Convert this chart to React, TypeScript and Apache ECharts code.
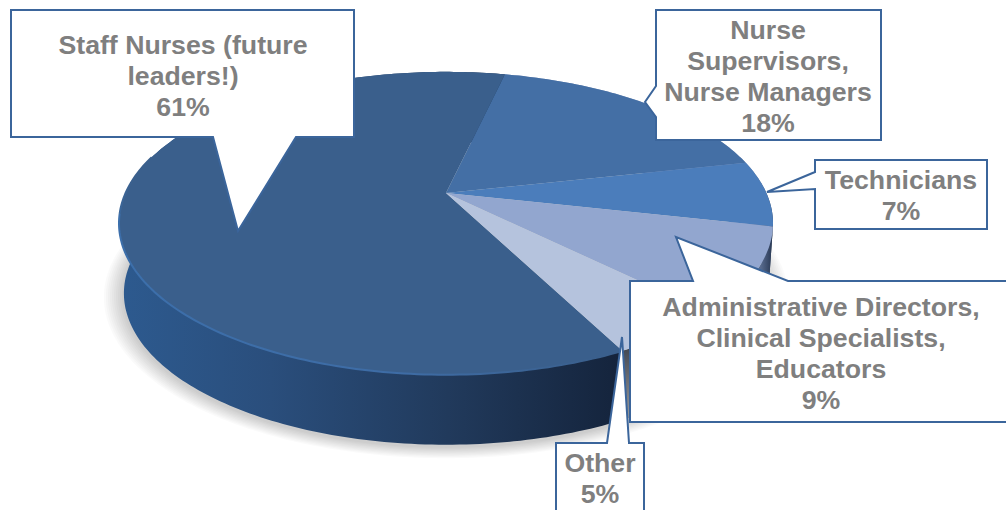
import React, { useEffect, useRef } from "react";
import * as echarts from "echarts";

const categories = [
  "Staff Nurses (future\nleaders!)",
  "Nurse\nSupervisors,\nNurse Managers",
  "Technicians",
  "Administrative Directors,\nClinical Specialists,\nEducators",
  "Other",
];
const shares = [61, 18, 7, 9, 5];
const faceColors = ["#3a5f8c", "#446fa5", "#4b7dbb", "#92a6cf", "#b5c3dd"];

const firstSliceStart = 153.1;
const apexX = 446;
const apexY = 193;
const radiusX = 320.4;
const radiusY = 145.4;
const tilt = 0.2;
const depth = 70;
const bottomScale = 0.985;
const shadowLayers = [2, 4, 6, 8, 10, 12, 14, 16, 18, 20];

const total = shares.reduce((a, b) => a + b, 0);
const sliceRange = (i: number) => {
  let s = firstSliceStart;
  for (let j = 0; j < i; j++) s += (shares[j] / total) * 360;
  return [s, s + (shares[i] / total) * 360];
};
const project = (deg: number) => {
  const r = (deg * Math.PI) / 180;
  const u = Math.sin(r);
  const v = Math.cos(r);
  const d = 1 + tilt * v;
  return [apexX + (radiusX * u) / d, apexY - (radiusY * v) / d];
};
const lower = (p: number[]) => [
  apexX + (p[0] - apexX) * bottomScale,
  p[1] + depth,
];
const arcPoints = (a: number, b: number) => {
  const pts: number[][] = [];
  const n = Math.max(2, Math.ceil(b - a));
  for (let i = 0; i <= n; i++) pts.push(project(a + ((b - a) * i) / n));
  return pts;
};

const wallFill = (i: number) => {
  if (i === 0)
    return new echarts.graphic.LinearGradient(
      119, 0, 625, 0,
      [
        { offset: 0, color: "#2d5a8f" },
        { offset: 0.3, color: "#2a4e7c" },
        { offset: 0.65, color: "#213a5c" },
        { offset: 1, color: "#14233b" },
      ],
      true,
    );
  if (i === 4)
    return new echarts.graphic.LinearGradient(
      0, 345, 0, 430,
      [
        { offset: 0, color: "#3f4550" },
        { offset: 1, color: "#a8a8a8" },
      ],
      true,
    );
  return new echarts.graphic.LinearGradient(
    745, 0, 772, 0,
    [
      { offset: 0, color: "#8a9cc0" },
      { offset: 0.6, color: "#56698c" },
      { offset: 1, color: "#2a3a55" },
    ],
    true,
  );
};

const rimStroke = new echarts.graphic.LinearGradient(
  119, 0, 600, 0,
  [
    { offset: 0, color: "#3c6fab" },
    { offset: 0.6, color: "#3e6ca5" },
    { offset: 1, color: "#3a5f8c" },
  ],
  true,
);
const rimFade = new echarts.graphic.LinearGradient(
  0, 175, 0, 260,
  [
    { offset: 0, color: "#3a5f8c" },
    { offset: 1, color: "#3c6fab" },
  ],
  true,
);

const boxStyle = { fill: "#ffffff", stroke: "#3b659b", lineWidth: 2 };
const callouts = [
  { i: 0, cx: 183, cy: 75.5, pts: [[11, 10], [354, 10], [354, 137], [296, 137], [238, 231], [213, 137], [11, 137]] },
  { i: 1, cx: 768, cy: 76, pts: [[656, 10], [881, 10], [881, 140], [656, 140], [656, 117], [645, 102], [656, 86]] },
  { i: 2, cx: 901, cy: 195.5, pts: [[815, 160], [987, 160], [987, 229], [815, 229], [815, 189], [767, 192], [815, 172]] },
  { i: 3, cx: 821, cy: 353, pts: [[630, 281], [693, 281], [676, 237], [788, 281], [1012, 281], [1012, 422], [630, 422]] },
  { i: 4, cx: 600, cy: 478.5, pts: [[556, 443], [607, 443], [622, 337], [629, 443], [644, 443], [644, 520], [556, 520]] },
];

export default function App() {
  const ref = useRef<HTMLDivElement>(null);
  useEffect(() => {
    const chart = echarts.init(ref.current!, undefined, { renderer: "svg" });
    const graphics: any[] = [];
    callouts.forEach((c, n) => {
      graphics.push({
        type: "polygon",
        z: 10 + n,
        shape: { points: c.pts },
        style: boxStyle,
      });
    });
    callouts.forEach((c) => {
      graphics.push({
        type: "text",
        z: 30,
        x: c.cx,
        y: c.cy,
        style: {
          text: `${categories[c.i]}\n${shares[c.i]}%`,
          font: 'bold 26.7px "Liberation Sans", Arial, sans-serif',
          lineHeight: 31,
          align: "center",
          verticalAlign: "middle",
          fill: "#7f7f7f",
        },
      });
    });
    chart.setOption({
      animation: false,
      backgroundColor: "#ffffff",
      series: [
        {
          type: "custom",
          coordinateSystem: "none",
          z: 0,
          silent: true,
          data: shadowLayers,
          renderItem: (params: any, api: any) => {
            const grow = 1 + api.value(0) / radiusX;
            const ring = arcPoints(0, 360)
              .map(lower)
              .map((p) => [
                apexX + (p[0] - apexX) * grow,
                apexY + 68 + (p[1] - apexY - 68) * grow + 2,
              ]);
            return {
              type: "polygon",
              shape: { points: ring },
              style: { fill: "rgba(0,0,0,0.018)" },
            };
          },
        },
        {
          type: "custom",
          coordinateSystem: "none",
          z: 1,
          silent: true,
          data: shares,
          renderItem: (params: any) => {
            const [a, b] = sliceRange(params.dataIndex);
            const top = arcPoints(a, b);
            const bottom = top.map(lower).reverse();
            return {
              type: "polygon",
              shape: { points: [...top, ...bottom] },
              style: { fill: wallFill(params.dataIndex) },
            };
          },
        },
        {
          type: "custom",
          coordinateSystem: "none",
          z: 2,
          silent: true,
          data: shares,
          renderItem: (params: any) => {
            const [a, b] = sliceRange(params.dataIndex);
            const children: any[] = [
              {
                type: "polygon",
                shape: { points: [[apexX, apexY], ...arcPoints(a, b)] },
                style: { fill: faceColors[params.dataIndex] },
              },
            ];
            if (params.dataIndex === 0) {
              children.push({
                type: "polyline",
                shape: { points: arcPoints(a, 262) },
                style: { fill: "none", stroke: rimStroke, lineWidth: 2 },
              });
              children.push({
                type: "polyline",
                shape: { points: arcPoints(262, 285) },
                style: { fill: "none", stroke: rimFade, lineWidth: 2 },
              });
            }
            return { type: "group", children };
          },
        },
      ],
      graphic: { elements: graphics },
    });
    return () => chart.dispose();
  }, []);
  return (
    <div
      ref={ref}
      style={{ position: "fixed", left: 0, top: 0, width: 1006, height: 510 }}
    />
  );
}
